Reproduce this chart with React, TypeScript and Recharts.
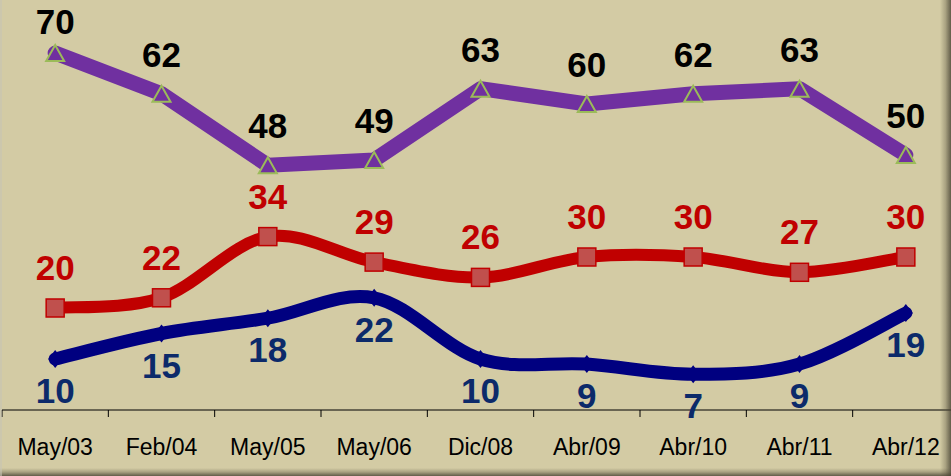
import React from 'react';
import { LineChart, Line, XAxis, YAxis } from 'recharts';

const categories = ['May/03', 'Feb/04', 'May/05', 'May/06', 'Dic/08', 'Abr/09', 'Abr/10', 'Abr/11', 'Abr/12'];
const purpleValues = [70, 62, 48, 49, 63, 60, 62, 63, 50];
const redValues = [20, 22, 34, 29, 26, 30, 30, 27, 30];
const blueValues = [10, 15, 18, 22, 10, 9, 7, 9, 19];

const data = categories.map((c, i) => ({
  cat: c,
  purple: purpleValues[i],
  red: redValues[i],
  blue: blueValues[i],
}));

const BG = '#D3CBA4';
const PURPLE = '#7030A0';
const RED = '#C00000';
const NAVY = '#000080';
const LABEL_BLUE = '#0C2A6A';
const FONT = '"Liberation Sans", Arial, sans-serif';

const CHART_W = 962;
const CHART_H = 476;
const MARGIN = { top: 2, left: 2, right: 3, bottom: 0 };
const BAND = (CHART_W - MARGIN.left - MARGIN.right) / categories.length;

// Excel-like smoothing (Catmull-Rom via cubic Bezier)
const smoothCurve: any = (context: any) => {
  let pts: number[][] = [];
  return {
    areaStart() {},
    areaEnd() {},
    lineStart() {
      pts = [];
    },
    point(x: number, y: number) {
      pts.push([+x, +y]);
    },
    lineEnd() {
      if (!pts.length) return;
      context.moveTo(pts[0][0], pts[0][1]);
      if (pts.length === 1) return;
      for (let i = 0; i < pts.length - 1; i++) {
        const p0 = pts[i - 1] || pts[i];
        const p1 = pts[i];
        const p2 = pts[i + 1];
        const p3 = pts[i + 2] || pts[i + 1];
        const c1x = p1[0] + (p2[0] - p0[0]) / 6;
        const c1y = p1[1] + (p2[1] - p0[1]) / 6;
        const c2x = p2[0] - (p3[0] - p1[0]) / 6;
        const c2y = p2[1] - (p3[1] - p1[1]) / 6;
        context.bezierCurveTo(c1x, c1y, c2x, c2y, p2[0], p2[1]);
      }
    },
  };
};

const labelStyle = {
  fontFamily: FONT,
  fontWeight: 700,
  fontSize: 35,
};

const PurpleDot = (props: any) => {
  const { cx, cy, value, index } = props;
  if (cx == null || cy == null) return null;
  const w = 9;
  const h = 8;
  return (
    <g key={`pd-${index}`}>
      <polygon
        points={`${cx},${cy - h} ${cx + w},${cy + h} ${cx - w},${cy + h}`}
        fill={PURPLE}
        stroke="#9BBB59"
        strokeWidth={2}
        strokeLinejoin="miter"
      />
      <text x={cx} y={Math.max(cy - 27, 34)} textAnchor="middle" fill="#000" style={labelStyle}>
        {value}
      </text>
    </g>
  );
};

const RedDot = (props: any) => {
  const { cx, cy, value, index } = props;
  if (cx == null || cy == null) return null;
  const s = 9;
  return (
    <g key={`rd-${index}`}>
      <rect x={cx - s} y={cy - s} width={2 * s} height={2 * s} fill="#C0504D" stroke={RED} strokeWidth={1.5} />
      <text x={cx} y={cy - 28} textAnchor="middle" fill={RED} style={labelStyle}>
        {value}
      </text>
    </g>
  );
};

const BlueDot = (props: any) => {
  const { cx, cy, value, index } = props;
  if (cx == null || cy == null) return null;
  const w = 7;
  const h = 9;
  return (
    <g key={`bd-${index}`}>
      <polygon points={`${cx},${cy - h} ${cx + w},${cy} ${cx},${cy + h} ${cx - w},${cy}`} fill={NAVY} />
      <text x={cx} y={cy + 44} textAnchor="middle" fill={LABEL_BLUE} style={labelStyle}>
        {value}
      </text>
    </g>
  );
};

const CatTick = (props: any) => {
  const { x, y, payload, index } = props;
  const lx = x - BAND / 2;
  return (
    <g key={`t-${index}`}>
      <line x1={lx} y1={y} x2={lx} y2={y + 7} stroke="#000" strokeWidth={1} />
      <text x={x} y={y + 45} textAnchor="middle" fill="#000" style={{ fontFamily: FONT, fontSize: 23 }}>
        {payload.value}
      </text>
    </g>
  );
};

export default function App() {
  return (
    <div
      style={{
        position: 'absolute',
        left: 0,
        top: 0,
        width: 951,
        height: 476,
        overflow: 'hidden',
        background: BG,
      }}
    >
      <LineChart width={CHART_W} height={CHART_H} data={data} margin={MARGIN}>
        <XAxis
          dataKey="cat"
          height={66}
          tickSize={0}
          tickMargin={0}
          tickLine={false}
          padding={{ left: BAND / 2, right: BAND / 2 }}
          axisLine={{ stroke: '#000', strokeWidth: 1 }}
          tick={<CatTick />}
          interval={0}
        />
        <YAxis hide domain={[0, 80]} />
        <Line
          dataKey="blue"
          type={smoothCurve}
          stroke={NAVY}
          strokeWidth={13}
          strokeLinecap="round"
          strokeLinejoin="round"
          dot={<BlueDot />}
          activeDot={false}
          isAnimationActive={false}
        />
        <Line
          dataKey="red"
          type={smoothCurve}
          stroke={RED}
          strokeWidth={12}
          strokeLinecap="round"
          strokeLinejoin="round"
          dot={<RedDot />}
          activeDot={false}
          isAnimationActive={false}
        />
        <Line
          dataKey="purple"
          type="linear"
          stroke={PURPLE}
          strokeWidth={15}
          strokeLinecap="round"
          strokeLinejoin="round"
          dot={<PurpleDot />}
          activeDot={false}
          isAnimationActive={false}
        />
      </LineChart>
      <div
        style={{
          position: 'absolute',
          right: 0,
          top: 0,
          width: 11,
          height: 476,
          background: 'linear-gradient(to right, rgba(90,84,64,0) 0%, rgba(90,84,64,0.35) 50%, rgba(70,65,50,0.8) 100%)',
        }}
      />
      <div
        style={{
          position: 'absolute',
          left: 0,
          bottom: 0,
          width: 951,
          height: 8,
          background: 'linear-gradient(to bottom, rgba(90,84,64,0) 0%, rgba(90,84,64,0.35) 50%, rgba(70,65,50,0.8) 100%)',
        }}
      />
      <div
        style={{
          position: 'absolute',
          left: 0,
          top: 0,
          width: 2,
          height: 476,
          background: 'rgba(200,196,180,0.6)',
        }}
      />
    </div>
  );
}
